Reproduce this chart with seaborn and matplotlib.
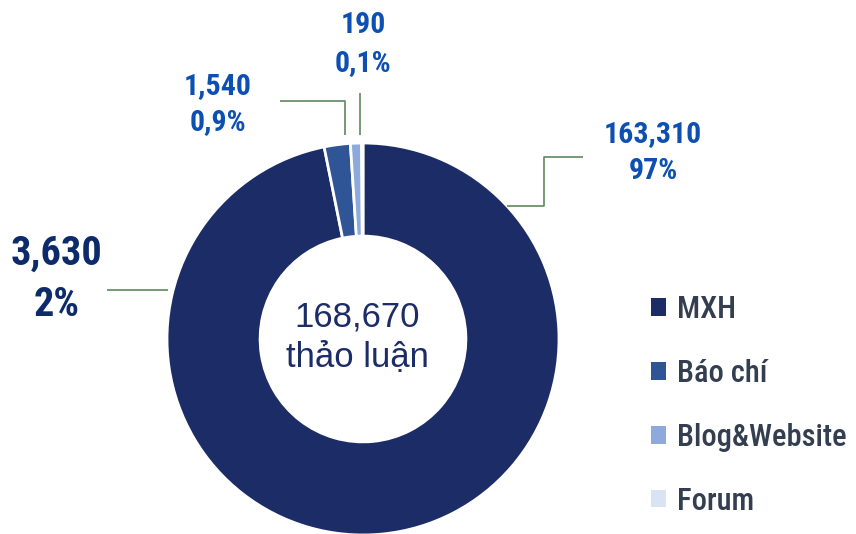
import matplotlib
matplotlib.use("Agg")
import matplotlib.pyplot as plt
import seaborn as sns
from matplotlib import font_manager as fm

categories = ["MXH", "Báo chí", "Blog&Website", "Forum"]
counts = [163310, 3630, 1540, 190]
value_labels = ["163,310", "3,630", "1,540", "190"]
pct_labels = ["97%", "2%", "0,9%", "0,1%"]
total_label = "168,670"
center_caption = "thảo luận"
colors = ["#1c2c66", "#2f5597", "#8eaadc", "#dae3f3"]

sns.set_theme(style="white")
avail = {f.name for f in fm.fontManager.ttflist}
cond = "Roboto Condensed" if "Roboto Condensed" in avail else ("Liberation Sans Narrow" if "Liberation Sans Narrow" in avail else "Roboto")
plt.rcParams["font.family"] = ["Roboto", "DejaVu Sans"]

W, H = 856, 534
fig = plt.figure(figsize=(W / 100, H / 100), dpi=100)
ax = fig.add_axes([0, 0, 1, 1])

CX, CY, R = 363, 339, 196


def px(x, y):
    return ((x - CX) / R, (CY - y) / R)


wedges, _ = ax.pie(counts, colors=colors, startangle=90, counterclock=False,
                   radius=1.0, wedgeprops=dict(width=0.475, edgecolor="white", linewidth=2))
ax.set_xlim(-CX / R, (W - CX) / R)
ax.set_ylim(-(H - CY) / R, CY / R)
ax.set_aspect("equal")
ax.axis("off")

# center text
ax.text(*px(357, 317), total_label, ha="center", va="center", fontsize=25,
        color="#1c2c66", family=["Liberation Sans", "DejaVu Sans"])
ax.text(*px(357, 357), center_caption, ha="center", va="center", fontsize=25,
        color="#1c2c66", family=["Liberation Sans", "DejaVu Sans"])

lc = "#5f875f"
blue = "#0d50b2"


def line(pts):
    xs, ys = zip(*[px(*p) for p in pts])
    ax.plot(xs, ys, color=lc, lw=1.2, solid_capstyle="butt")


FS = 21.5

# MXH label
line([(507, 206), (544, 206), (544, 157), (583, 157)])
ax.text(*px(653, 134), value_labels[0], ha="center", va="center", fontsize=FS,
        fontweight="bold", color=blue, family=[cond, "DejaVu Sans"])
ax.text(*px(653, 171), pct_labels[0], ha="center", va="center", fontsize=FS,
        fontweight="bold", color=blue, family=[cond, "DejaVu Sans"])

# Báo chí label
line([(107, 290), (168, 290)])
ax.text(*px(57, 254), value_labels[1], ha="center", va="center", fontsize=29,
        fontweight="bold", color="#0d2a6b", family=[cond, "DejaVu Sans"])
ax.text(*px(57, 305), pct_labels[1], ha="center", va="center", fontsize=29,
        fontweight="bold", color="#0d2a6b", family=[cond, "DejaVu Sans"])

# Blog label
line([(280, 101), (345, 101), (345, 135)])
ax.text(*px(218, 86), value_labels[2], ha="center", va="center", fontsize=FS,
        fontweight="bold", color=blue, family=[cond, "DejaVu Sans"])
ax.text(*px(218, 122), pct_labels[2], ha="center", va="center", fontsize=FS,
        fontweight="bold", color=blue, family=[cond, "DejaVu Sans"])

# Forum label
line([(360, 93), (360, 135)])
ax.text(*px(363, 25), value_labels[3], ha="center", va="center", fontsize=FS,
        fontweight="bold", color=blue, family=[cond, "DejaVu Sans"])
ax.text(*px(363, 63), pct_labels[3], ha="center", va="center", fontsize=FS,
        fontweight="bold", color=blue, family=[cond, "DejaVu Sans"])

leg = fig.legend(wedges, categories, loc="upper left", bbox_to_anchor=(651 / W, 1 - 295 / H),
                 frameon=False, handlelength=0.5, handleheight=0.5, handletextpad=0.35,
                 labelspacing=1.14, borderaxespad=0, borderpad=0,
                 prop=dict(family=[cond, "DejaVu Sans"], size=22, weight="medium"))
for t in leg.get_texts():
    t.set_color("#333f50")
for h in leg.legend_handles:
    h.set_edgecolor("none")

fig.savefig("out.png", dpi=100)
